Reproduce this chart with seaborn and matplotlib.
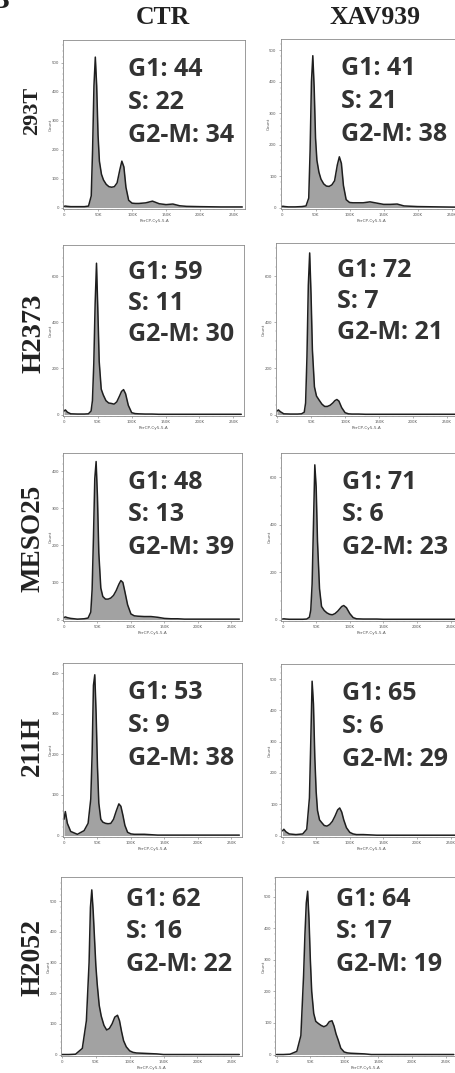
import matplotlib
matplotlib.use('Agg')
import matplotlib.pyplot as plt
from matplotlib.ticker import MultipleLocator, FixedLocator
import numpy as np
import pandas as pd
import seaborn as sns

# ---------------- data ----------------
X_GRID_K = [0, 2, 5, 10, 20, 30, 36, 40, 42, 44, 46, 48, 50, 52, 55, 58, 62, 66, 70, 74,
            78, 82, 85, 88, 91, 95, 100, 105, 110, 120, 130, 140, 150, 160, 170, 180, 200, 230, 262]

CELL_LINES = ['293T', 'H2373', 'MESO25', '211H', 'H2052']
CONDITIONS = ['CTR', 'XAV939']

COUNTS_293T_CTR = [4, 5, 4, 3, 3, 3, 5, 40, 200, 420, 519, 420, 250, 160, 115, 95, 80, 72, 70, 72,
                   85, 130, 160, 140, 70, 25, 15, 14, 14, 16, 22, 13, 10, 12, 6, 4, 3, 2, 2]
COUNTS_293T_XAV = [3, 4, 3, 2, 2, 3, 5, 30, 180, 400, 482, 380, 220, 150, 112, 90, 75, 68, 67, 72,
                   85, 135, 161, 140, 70, 25, 16, 15, 15, 15, 18, 14, 10, 10, 11, 5, 3, 2, 1]
COUNTS_H2373_CTR = [15, 20, 10, 3, 2, 2, 3, 15, 60, 220, 480, 656, 450, 230, 110, 85, 60, 50, 48, 45,
                    55, 80, 100, 108, 90, 40, 8, 4, 3, 2, 2, 1, 1, 1, 1, 1, 1, 1, 1]
COUNTS_H2373_XAV = [15, 20, 12, 3, 2, 2, 3, 10, 50, 250, 560, 700, 520, 280, 120, 80, 62, 45, 35, 35,
                    40, 50, 60, 65, 58, 30, 8, 3, 2, 2, 1, 1, 1, 1, 1, 1, 1, 1, 1]
COUNTS_MESO25_CTR = [5, 7, 5, 3, 1, 2, 4, 20, 80, 220, 380, 426, 330, 180, 85, 62, 55, 55, 58, 65,
                     78, 95, 105, 100, 75, 40, 15, 10, 9, 8, 8, 6, 3, 2, 2, 1, 1, 1, 1]
COUNTS_MESO25_XAV = [2, 3, 2, 1, 1, 1, 2, 10, 40, 150, 400, 653, 560, 330, 130, 55, 38, 28, 22, 20,
                     25, 35, 45, 55, 59, 50, 25, 8, 3, 2, 2, 2, 1, 1, 1, 1, 1, 1, 1]
COUNTS_211H_CTR = [40, 59, 30, 10, 3, 12, 30, 90, 200, 370, 396, 300, 170, 80, 40, 33, 30, 29, 30, 40,
                   60, 78, 72, 50, 25, 8, 4, 3, 3, 3, 2, 1, 1, 1, 1, 1, 1, 1, 1]
COUNTS_211H_XAV = [15, 20, 12, 5, 3, 5, 20, 120, 300, 493, 420, 250, 140, 80, 50, 42, 32, 30, 35, 45,
                   62, 82, 88, 75, 50, 25, 10, 5, 3, 3, 2, 1, 1, 1, 1, 1, 1, 1, 1]
COUNTS_H2052_CTR = [0, 0, 0, 0, 1, 20, 110, 300, 480, 537, 470, 380, 290, 230, 160, 125, 95, 80, 85, 100,
                    122, 128, 110, 75, 45, 25, 12, 7, 5, 4, 3, 2, 0, 0, 0, 0, 0, 0, 0]
COUNTS_H2052_XAV = [0, 0, 0, 0, 1, 10, 60, 250, 380, 480, 517, 430, 300, 200, 130, 105, 98, 92, 88, 92,
                    104, 107, 90, 65, 47, 20, 8, 5, 4, 3, 2, 0, 0, 0, 0, 0, 0, 0, 0]

COUNTS_CTR = [COUNTS_293T_CTR, COUNTS_H2373_CTR, COUNTS_MESO25_CTR, COUNTS_211H_CTR, COUNTS_H2052_CTR]
COUNTS_XAV = [COUNTS_293T_XAV, COUNTS_H2373_XAV, COUNTS_MESO25_XAV, COUNTS_211H_XAV, COUNTS_H2052_XAV]

G1_CTR = [44, 59, 48, 53, 62]
S_CTR = [22, 11, 13, 9, 16]
G2M_CTR = [34, 30, 39, 38, 22]
G1_XAV = [41, 72, 71, 65, 64]
S_XAV = [21, 7, 6, 6, 17]
G2M_XAV = [38, 21, 23, 29, 19]

YMAX_CTR = [578, 735, 449, 425, 579]
YMAX_XAV = [535, 743, 703, 548, 562]
YSTEP_CTR = [100, 200, 100, 100, 100]
YSTEP_XAV = [100, 200, 200, 100, 100]

X_TICKS = [0, 50000, 100000, 150000, 200000, 250000]
X_TICK_LABELS = ['0', '50K', '100K', '150K', '200K', '250K']

# ---------------- style / layout ----------------
sns.set_theme(style='white')
plt.rcParams['font.family'] = ['DejaVu Sans']

W, H = 456, 1073
fig = plt.figure(figsize=(W / 100, H / 100), dpi=100)
fig.patch.set_facecolor('white')

# pixel boxes (left, top, right, bottom)
CTR_BOX = [(63, 40, 245, 209), (63, 245, 244, 416), (63, 453, 242, 621),
           (63, 663, 242, 837), (61, 877, 242, 1056)]
XAV_BOX = [(280.5, 39, 462.5, 209), (276, 243, 458, 416), (281.5, 453, 461.5, 621),
           (281.5, 664, 461.5, 837), (275.5, 877, 456.5, 1056)]
TEXT_DX = [65, 61]
TEXT_TOP = [27, 25, 27, 27, 20]
TEXT_GAP = [33, 31, 32.5, 33, 32.5]

FILL = '#a2a2a2'
LINE = '#1e1e1e'
TXT = '#333333'


def add_ax(box):
    l, t, r, b = box
    return fig.add_axes([l / W, 1 - b / H, (r - l) / W, (b - t) / H])


def draw_panel(box, counts, ymax, ystep, g1, s, g2m, dx, row):
    ax = add_ax(box)
    x = np.array(X_GRID_K) * 1000.0
    y = np.array(counts, dtype=float)
    df = pd.DataFrame({'x': x, 'y': y})
    ax.fill_between(df['x'], df['y'], 0, color=FILL, lw=0, zorder=1)
    sns.lineplot(data=df, x='x', y='y', ax=ax, color=LINE, lw=1.1,
                 estimator=None, sort=False, zorder=2)
    l, t, r, b = box
    h = b - t
    ax.set_xlim(-1500, 266000)
    ax.set_ylim(-1.5 / h * ymax, ymax)
    ax.xaxis.set_major_locator(FixedLocator(X_TICKS))
    ax.set_xticklabels(X_TICK_LABELS)
    ax.xaxis.set_minor_locator(MultipleLocator(10000))
    ax.yaxis.set_major_locator(MultipleLocator(ystep))
    ax.yaxis.set_minor_locator(MultipleLocator(ystep / 5))
    ax.tick_params(which='major', length=1.6, width=0.4, color='#777777',
                   labelsize=2.8, labelcolor='#555555', pad=1.2, direction='out',
                   bottom=True, left=True)
    ax.tick_params(which='minor', length=0.8, width=0.3, color='#999999',
                   bottom=True, left=True)
    ax.set_xlabel('PerCP-Cy5-5-A', fontsize=3.0, color='#555555', labelpad=1.2)
    ax.set_ylabel('Count', fontsize=3.0, color='#555555', labelpad=-1.0)
    for sp in ax.spines.values():
        sp.set_visible(True)
        sp.set_color('#8a8a8a')
        sp.set_linewidth(0.6)
    ax.set_facecolor('white')
    lines = [f'G1: {g1}', f'S: {s}', f'G2-M: {g2m}']
    for i, txt in enumerate(lines):
        cy = t + TEXT_TOP[row] + i * TEXT_GAP[row] + 9
        fig.text((l + dx) / W, 1 - cy / H, txt, fontsize=18, fontweight='bold',
                 family='Open Sans', color=TXT, ha='left', va='baseline')
    return ax


for i in range(5):
    draw_panel(CTR_BOX[i], COUNTS_CTR[i], YMAX_CTR[i], YSTEP_CTR[i],
               G1_CTR[i], S_CTR[i], G2M_CTR[i], TEXT_DX[0], i)
    draw_panel(XAV_BOX[i], COUNTS_XAV[i], YMAX_XAV[i], YSTEP_XAV[i],
               G1_XAV[i], S_XAV[i], G2M_XAV[i], TEXT_DX[1], i)

# column titles
COL_X = [163, 375]
for cx, name in zip(COL_X, CONDITIONS):
    fig.text(cx / W, 1 - 18 / H, name, fontsize=18.5, fontweight='bold',
             family='Liberation Serif', color='#222222', ha='center', va='center')

# row labels
ROW_X = [32.5, 34, 33, 32, 33.5]
ROW_Y = [111, 333, 538, 746, 957]
ROW_SIZE = [16, 20.5, 19.5, 19.5, 20]
for rx, ry, rs, name in zip(ROW_X, ROW_Y, ROW_SIZE, CELL_LINES):
    fig.text(rx / W, 1 - ry / H, name, fontsize=rs, fontweight='bold',
             family='Liberation Serif', color='#222222', ha='center', va='center',
             rotation=90)

# panel letter (cropped at the corner)
fig.text(9 / W, 1 - 8 / H, 'B', fontsize=20, fontweight='bold',
         family='Liberation Serif', color='#222222', ha='right', va='baseline')

fig.savefig('out.png', dpi=100, facecolor='white')
